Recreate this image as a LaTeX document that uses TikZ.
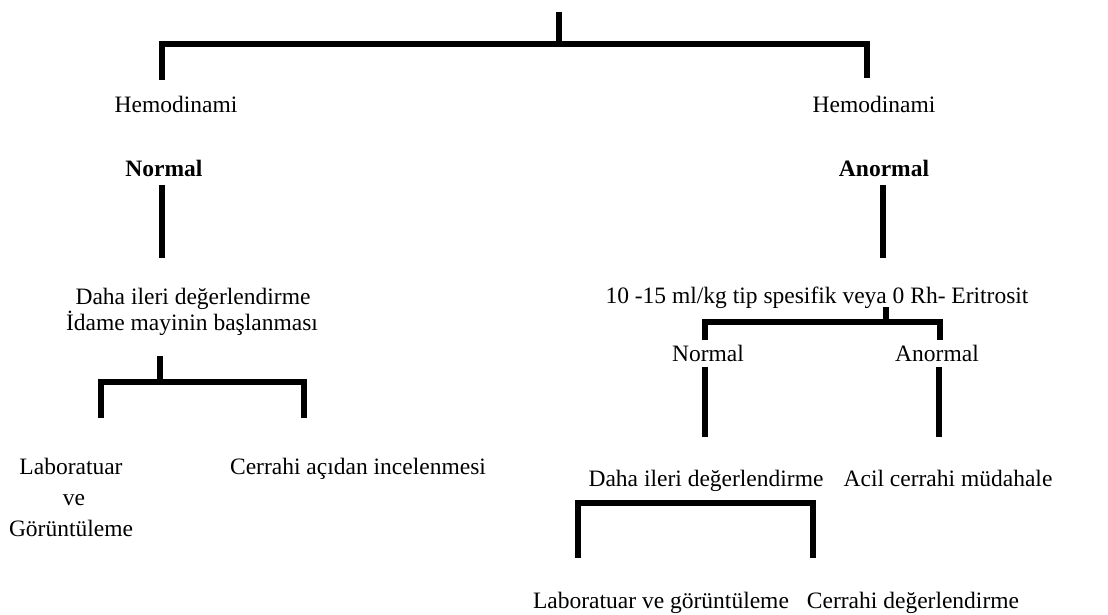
\documentclass[tikz,border=0pt]{standalone}
\usepackage{fontspec}
\setmainfont{Liberation Serif}
\tikzset{
	lbl/.style = {inner sep = 0pt, anchor = base, font = \fontsize{23.5}{28}\selectfont},
	bar/.style = {line width = 5.5pt}
}
\begin{document}
\begin{tikzpicture}[x = 1pt, y = -1pt]
		\useasboundingbox (0, 0) rectangle (1108, 615);
		% left branch
		\node[lbl] (hemL) at (176, 113) {Hemodinami};
		\node[lbl] (norL) at (164, 176) {\textbf{Normal}};
		\node[lbl] (dahL) at (193, 304) {Daha ileri değerlendirme};
		\node[lbl] (idaL) at (192, 330) {İdame mayinin başlanması};
		\node[lbl] (lab1) at (71, 474) {Laboratuar};
		\node[lbl] (lab2) at (74, 505) {ve};
		\node[lbl] (lab3) at (71, 536) {Görüntüleme};
		\node[lbl] (cerL) at (358, 474) {Cerrahi açıdan incelenmesi};
		% right branch
		\node[lbl] (hemR) at (874, 113) {Hemodinami};
		\node[lbl] (anoR) at (884, 176) {\textbf{Anormal}};
		\node[lbl] (eri) at (817, 303) {10 -15 ml/kg tip spesifik veya 0 Rh- Eritrosit};
		\node[lbl] (nor2) at (708, 361) {Normal};
		\node[lbl] (ano2) at (937, 361) {Anormal};
		\node[lbl] (dahR) at (706, 486) {Daha ileri değerlendirme};
		\node[lbl] (acil) at (948, 486) {Acil cerrahi müdahale};
		\node[lbl] (labR) at (661, 608) {Laboratuar ve görüntüleme};
		\node[lbl] (cerR) at (913, 608) {Cerrahi değerlendirme};

		\coordinate (top) at (559, 12);
		\coordinate (j0) at (559, 44);
		\draw[bar] (top) -- (j0);
		\draw[bar] (162, 80) |- (j0) -| (867, 78);

		\draw[bar] (162, 185) -- (162, 258);
		\draw[bar] (883, 185) -- (883, 258);

		\coordinate (j1) at (160, 382);
		\draw[bar] (160, 356) -- (j1);
		\draw[bar] (101, 418) |- (j1) -| (304, 418);

		\coordinate (j2) at (886, 322);
		\draw[bar] (886, 307) -- (j2);
		\draw[bar] (705, 340) |- (j2) -| (940, 340);

		\draw[bar] (705, 367) -- (705, 437);
		\draw[bar] (939, 367) -- (939, 437);

		\draw[bar] (578, 558) |- (695, 503) -| (813, 558);
	\end{tikzpicture}
\end{document}
